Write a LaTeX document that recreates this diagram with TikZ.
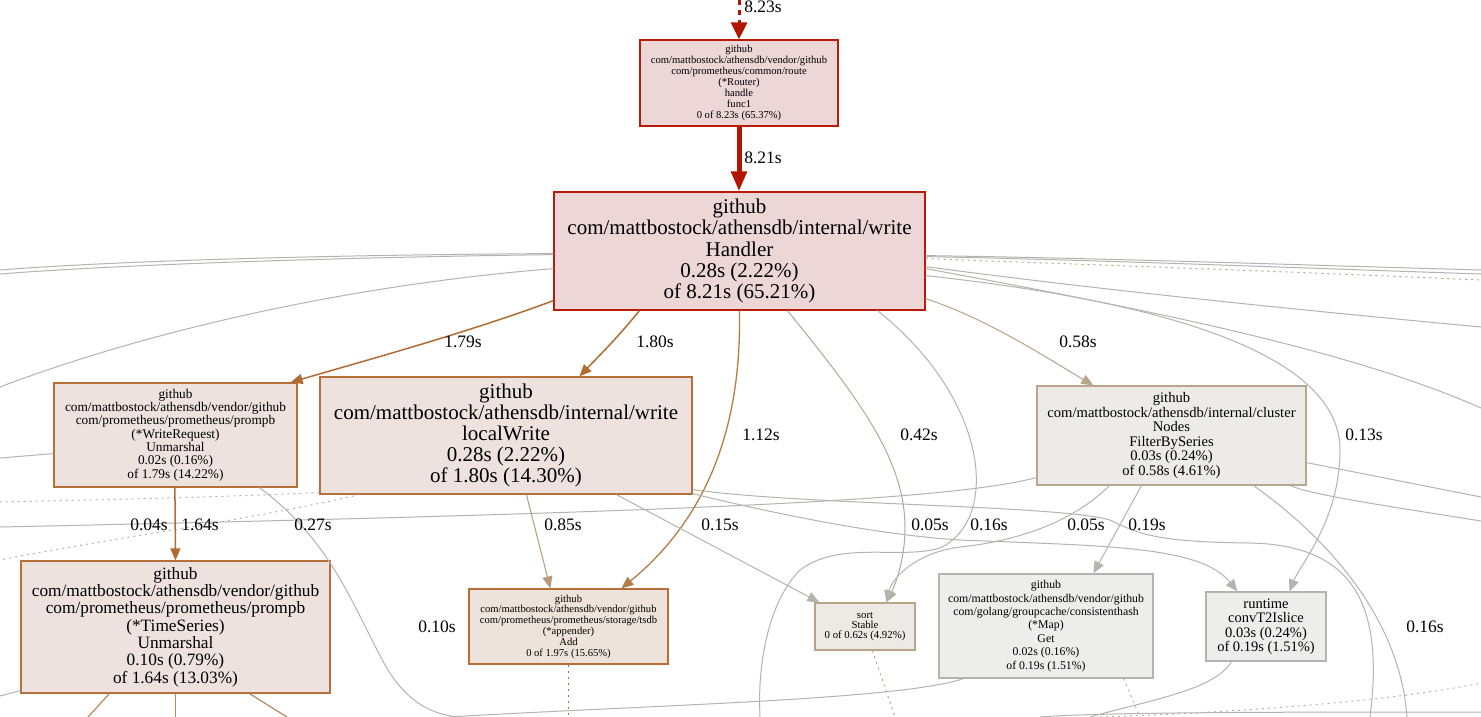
\documentclass[tikz,border=0pt]{standalone}
\usepackage{fontspec}
\setmainfont{Liberation Serif}
\usetikzlibrary{arrows.meta}
\definecolor{hotB}{HTML}{B81A0C}
\definecolor{hotF}{HTML}{EDD6D6}
\definecolor{hotE}{HTML}{B21600}
\definecolor{orB}{HTML}{B6713B}
\definecolor{orF}{HTML}{EDE2DD}
\definecolor{adB}{HTML}{B86D35}
\definecolor{adF}{HTML}{EDE3DA}
\definecolor{tnB}{HTML}{B8A78F}
\definecolor{tnF}{HTML}{EDEBE8}
\definecolor{stB}{HTML}{B8A586}
\definecolor{stF}{HTML}{EDEAE6}
\definecolor{gyB}{HTML}{B5B3AE}
\definecolor{gyF}{HTML}{EDEDEC}
\definecolor{orE}{HTML}{B26C32}
\definecolor{o2E}{HTML}{B57D45}
\definecolor{t85E}{HTML}{B59B7A}
\definecolor{t42E}{HTML}{B5A892}
\definecolor{t58E}{HTML}{B5A58A}
\definecolor{gyE}{HTML}{B3B3B0}
\definecolor{tsE}{HTML}{B8895A}
\definecolor{dtE}{HTML}{B8A080}
\begin{document}
\begin{tikzpicture}[x=1pt,y=-1pt,
  box/.style={draw, rectangle, align=center, inner sep=0pt, line width=1.2pt},
  hotbox/.style={box, draw=hotB, fill=hotF},
  obox/.style={box, draw=orB, fill=orF},
  abox/.style={box, draw=adB, fill=adF},
  tbox/.style={box, draw=tnB, fill=tnF},
  sbox/.style={box, draw=stB, fill=stF},
  gbox/.style={box, draw=gyB, fill=gyF},
  lbl/.style={font=\fontsize{17.5}{20}\selectfont, inner sep=0pt},
  tip/.style={-{Triangle[length=12pt,width=10pt]}},
  ge/.style={draw=gyE, line width=1pt},
  gdot/.style={draw=gyE, line width=1pt, dash pattern=on 2pt off 4pt},
]
\useasboundingbox (0,0) rectangle (1481,717);
\fill[white] (0,0) rectangle (1481,717);
\clip (0,0) rectangle (1481,717);

% ---------- nodes ----------
\node[hotbox, minimum width=198pt, minimum height=86pt, font=\fontsize{10.6}{11}\selectfont] (route) at (739,83)
 {github\\com/mattbostock/athensdb/vendor/github\\com/prometheus/common/route\\(*Router)\\handle\\func1\\0 of 8.23s (65.37\%)};
\node[hotbox, minimum width=371pt, minimum height=118pt, font=\fontsize{21}{21.2}\selectfont] (Handler) at (739.5,251)
 {github\\com/mattbostock/athensdb/internal/write\\Handler\\0.28s (2.22\%)\\of 8.21s (65.21\%)};
\node[obox, minimum width=243pt, minimum height=104pt, font=\fontsize{13.3}{13.3}\selectfont] (WR) at (175.5,435)
 {github\\com/mattbostock/athensdb/vendor/github\\com/prometheus/prometheus/prompb\\(*WriteRequest)\\Unmarshal\\0.02s (0.16\%)\\of 1.79s (14.22\%)};
\node[obox, minimum width=372pt, minimum height=117pt, font=\fontsize{21}{21.2}\selectfont] (localWrite) at (506,435.5)
 {github\\com/mattbostock/athensdb/internal/write\\localWrite\\0.28s (2.22\%)\\of 1.80s (14.30\%)};
\node[obox, minimum width=309pt, minimum height=132pt, font=\fontsize{17.3}{17.3}\selectfont] (TS) at (175.5,627)
 {github\\com/mattbostock/athensdb/vendor/github\\com/prometheus/prometheus/prompb\\(*TimeSeries)\\Unmarshal\\0.10s (0.79\%)\\of 1.64s (13.03\%)};
\node[abox, minimum width=199pt, minimum height=75pt, font=\fontsize{10.6}{10.8}\selectfont] (Add) at (568.5,626.5)
 {github\\com/mattbostock/athensdb/vendor/github\\com/prometheus/prometheus/storage/tsdb\\(*appender)\\Add\\0 of 1.97s (15.65\%)};
\node[sbox, minimum width=100pt, minimum height=47pt, font=\fontsize{10.8}{10.2}\selectfont] (sort) at (865,626.5)
 {sort\\Stable\\0 of 0.62s (4.92\%)};
\node[tbox, minimum width=269pt, minimum height=99pt, font=\fontsize{14.6}{14.6}\selectfont] (FBS) at (1171.5,435.5)
 {github\\com/mattbostock/athensdb/internal/cluster\\Nodes\\FilterBySeries\\0.03s (0.24\%)\\of 0.58s (4.61\%)};
\node[gbox, minimum width=214pt, minimum height=104pt, font=\fontsize{11.8}{13.4}\selectfont] (Get) at (1046,626)
 {github\\com/mattbostock/athensdb/vendor/github\\com/golang/groupcache/consistenthash\\(*Map)\\Get\\0.02s (0.16\%)\\of 0.19s (1.51\%)};
\node[gbox, minimum width=120pt, minimum height=69pt, font=\fontsize{14.5}{14.5}\selectfont] (conv) at (1266,626.5)
 {runtime\\convT2Islice\\0.03s (0.24\%)\\of 0.19s (1.51\%)};

% ---------- free ends ----------
\coordinate (topin) at (739,0);
\coordinate (wl1) at (0,270);
\coordinate (wl2) at (0,274);
\coordinate (wl3) at (0,387);
\coordinate (wl4) at (0,458);
\coordinate (wl5) at (0,502);
\coordinate (wl6) at (0,560);
\coordinate (wl7) at (0,527);
\coordinate (wl8) at (0,696);
\coordinate (er1) at (1481,270);
\coordinate (er2) at (1481,274);
\coordinate (er3) at (1481,280);
\coordinate (er4) at (1481,327);
\coordinate (er5) at (1481,408);
\coordinate (er6) at (1481,497);
\coordinate (er7) at (1481,521);
\coordinate (er8) at (1481,712);
\coordinate (er9) at (1481,683);
\coordinate (eb1) at (460,717);
\coordinate (eb2) at (449,717);
\coordinate (eb3) at (760,717);
\coordinate (eb4) at (1370,717);
\coordinate (eb5) at (1407,717);
\coordinate (eb6) at (1090,717);
\coordinate (eb7) at (1140,717);
\coordinate (eb8) at (895,717);
\coordinate (eb9) at (568.5,717);
\coordinate (eb10) at (88,717);
\coordinate (eb11) at (175.5,717);
\coordinate (eb12) at (287,717);
\coordinate (eb13) at (1040,717);
\coordinate (eb14) at (1100,717);

% ---------- passing edges ----------
\draw[ge] ([yshift=57pt]Handler.south west) .. controls (300,255) and (100,262) .. (wl1);
\draw[ge] ([yshift=56pt]Handler.south west) .. controls (300,258) and (100,266) .. (wl2);
\draw[ge] ([yshift=42pt]Handler.south west) .. controls (350,285) and (150,330) .. (wl3);
\draw[ge] ([yshift=34pt]WR.south west) -- (wl4);
\draw[gdot] ([yshift=2pt]localWrite.south west) .. controls (200,498) and (80,500) .. (wl5);
\draw[gdot] ([xshift=40pt]localWrite.south west) .. controls (250,520) and (100,540) .. (wl6);
\draw[ge] ([yshift=8pt]FBS.south west) .. controls (950,500) and (700,512) .. (wl7);
\draw[ge] ([yshift=3pt]TS.south west) -- (wl8);

\draw[ge] ([yshift=55pt]Handler.south east) .. controls (1100,258) and (1300,265) .. (er1);
\draw[ge] ([yshift=54pt]Handler.south east) .. controls (1100,260) and (1300,268) .. (er2);
\draw[draw=dtE, line width=1pt, dash pattern=on 2pt off 4pt] ([yshift=52pt]Handler.south east) .. controls (1100,265) and (1300,272) .. (er3);
\draw[ge] ([yshift=44pt]Handler.south east) .. controls (1100,290) and (1300,310) .. (er4);
\draw[ge] ([yshift=42pt]Handler.south east) .. controls (1150,310) and (1350,350) .. (er5);
\draw[ge] ([xshift=324pt]Handler.south west) .. controls (990,400) and (1000,520) .. (940,548)
   .. controls (900,560) and (840,540) .. (800,570) .. controls (770,600) and (757,660) .. (eb3);

\draw[ge] ([xshift=206pt]WR.south west) .. controls (330,540) and (350,600) .. (385,665)
   .. controls (405,700) and (430,715) .. (eb1);
\draw[ge] ([yshift=5pt]localWrite.south east) .. controls (800,505) and (1060,505) .. (1110,520)
   .. controls (1140,535) and (1160,542) .. (1250,543) .. controls (1350,545) and (1385,600) .. (eb4);
\draw[ge] ([yshift=23pt]FBS.south east) -- (er6);
\draw[ge] ([xshift=-16pt]FBS.south east) .. controls (1310,495) and (1400,508) .. (er7);
\draw[ge] ([xshift=-53pt]FBS.south east) .. controls (1330,540) and (1400,620) .. (eb5);
\draw[ge] ([xshift=25pt]Get.south west) .. controls (900,700) and (650,705) .. (eb2);
\draw[gdot] ([xshift=-30pt]Get.south east) -- (eb7);
\draw[ge] ([xshift=26pt]conv.south west) .. controls (1215,690) and (1150,700) .. (eb6);
\draw[draw=dtE, line width=1pt, dash pattern=on 2pt off 4pt] ([xshift=58pt]sort.south west) -- (eb8);
\draw[draw=adB, line width=1.2pt, dash pattern=on 2pt off 4pt] (Add.south) -- (eb9);
\draw[draw=tsE, line width=1.2pt] ([xshift=89pt]TS.south west) -- (eb10);
\draw[draw=tsE, line width=1.2pt] (TS.south) -- (eb11);
\draw[draw=tsE, line width=1.2pt] ([xshift=229pt]TS.south west) -- (eb12);
\draw[ge] (eb13) .. controls (1100,712) and (1300,712) .. (er8);
\draw[gdot] (eb14) .. controls (1250,712) and (1400,700) .. (er9);

% ---------- main edges ----------
\draw[draw=hotE, line width=3pt, dash pattern=on 5pt off 5pt, -{Triangle[length=17pt,width=16pt]}] (topin) -- (route.north);
\draw[draw=hotE, line width=5pt, -{Triangle[length=20pt,width=15pt]}] (route.south) -- (route.south |- Handler.north);
\draw[draw=orE, line width=1.5pt, tip] ([yshift=10pt]Handler.south west) .. controls (470,332) and (360,362) .. ([xshift=-7pt]WR.north east);
\draw[draw=orE, line width=1.5pt, tip] ([xshift=86pt]Handler.south west) .. controls (620,335) and (598,357) .. ([xshift=260pt]localWrite.north west);
\draw[draw=o2E, line width=1.3pt, tip] ([xshift=186pt]Handler.south west) .. controls (742,430) and (705,520) .. ([xshift=153pt]Add.north west);
\draw[draw=t42E, line width=1pt, tip] ([xshift=234pt]Handler.south west) .. controls (860,400) and (905,460) .. (905,528)
   .. controls (905,560) and (895,585) .. ([xshift=72pt]sort.north west);
\draw[draw=t58E, line width=1pt, tip] ([yshift=12pt]Handler.south east) .. controls (990,320) and (1050,360) .. ([xshift=57pt]FBS.north west);
\draw[ge, tip] ([yshift=35pt]Handler.south east) .. controls (1150,300) and (1340,350) .. (1340,450)
   .. controls (1340,520) and (1300,565) .. ([xshift=84pt]conv.north west);
\draw[draw=orE, line width=1.5pt, tip] ([xshift=121.5pt]WR.south west) -- (TS.north);
\draw[draw=t85E, line width=1pt, tip] ([xshift=207pt]localWrite.south west) -- ([xshift=82pt]Add.north west);
\draw[ge, tip] ([xshift=297pt]localWrite.south west) -- ([xshift=5pt]sort.north west);
\draw[ge, tip] ([yshift=1pt]localWrite.south east) .. controls (780,515) and (880,535) .. (960,540)
   .. controls (1100,546) and (1200,545) .. ([xshift=32pt]conv.north west);
\draw[ge, tip] ([xshift=73pt]FBS.south west) .. controls (1070,525) and (1010,542) .. (960,547)
   .. controls (920,552) and (893,575) .. ([xshift=72pt]sort.north west);
\draw[ge, tip] ([xshift=105pt]FBS.south west) -- ([xshift=155pt]Get.north west);

% ---------- labels ----------
\node[lbl] (l1) at (763,7) {8.23s};
\node[lbl] (l2) at (763,158) {8.21s};
\node[lbl] (l3) at (463,342) {1.79s};
\node[lbl] (l4) at (655,342) {1.80s};
\node[lbl] (l5) at (1078,342) {0.58s};
\node[lbl] (l6) at (761,435) {1.12s};
\node[lbl] (l7) at (919,435) {0.42s};
\node[lbl] (l8) at (1364,435) {0.13s};
\node[lbl] (l9) at (149,525) {0.04s};
\node[lbl] (l10) at (200,525) {1.64s};
\node[lbl] (l11) at (313,525) {0.27s};
\node[lbl] (l12) at (563,525) {0.85s};
\node[lbl] (l13) at (720,525) {0.15s};
\node[lbl] (l14) at (930,525) {0.05s};
\node[lbl] (l15) at (989,525) {0.16s};
\node[lbl] (l16) at (1086,525) {0.05s};
\node[lbl] (l17) at (1147,525) {0.19s};
\node[lbl] (l18) at (437,627) {0.10s};
\node[lbl] (l19) at (1425,627) {0.16s};
\end{tikzpicture}
\end{document}
